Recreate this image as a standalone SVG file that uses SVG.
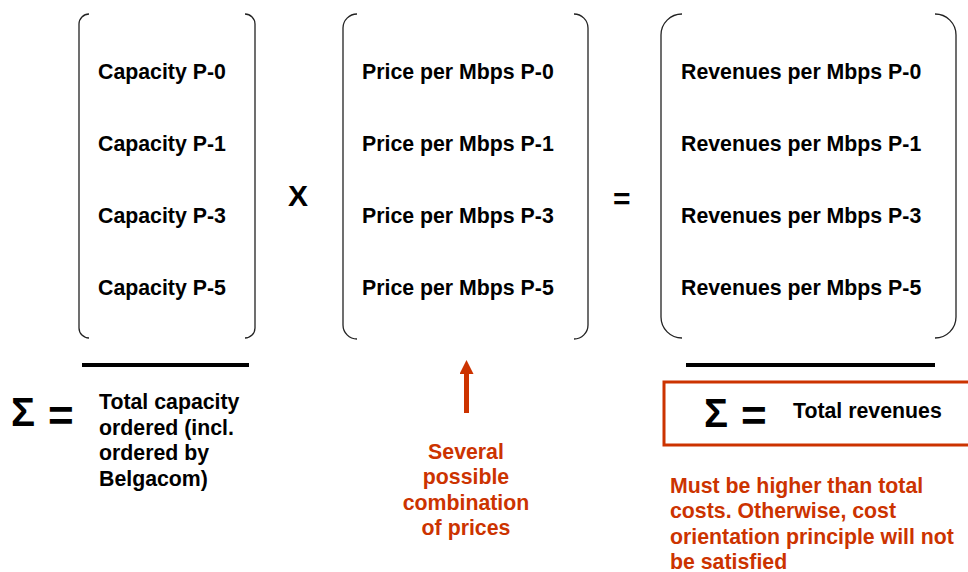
<svg xmlns="http://www.w3.org/2000/svg" width="968" height="572" viewBox="0 0 968 572">
<style>
  .lbl{font-family:"Liberation Sans",Arial,sans-serif;font-weight:bold;font-size:21.3px;fill:#000}
  .red{font-family:"Liberation Sans",Arial,sans-serif;font-weight:bold;font-size:21.3px;fill:#CC3300}
  .op{font-family:"Liberation Sans",Arial,sans-serif;font-weight:bold;fill:#000}
  .br{fill:none;stroke:#222;stroke-width:1.3}
  .bar{stroke:#000;stroke-width:4}
</style>
<defs>
  <marker id="ah" markerWidth="14" markerHeight="14" refX="0" refY="7" viewBox="0 0 14 14" markerUnits="userSpaceOnUse" orient="auto">
    <path d="M0,0 L14,7 L0,14 Z" fill="#CC3300"/>
  </marker>
</defs>
<rect width="968" height="572" fill="#fff"/>

<g id="matrix-capacity">
  <path class="br" d="M89,14 A10,10 0 0 0 79,24 L79,328 A10,10 0 0 0 89,338"/>
  <path class="br" d="M245,14 A10,10 0 0 1 255,24 L255,328 A10,10 0 0 1 245,338"/>
  <text class="lbl" x="98" y="78.5">Capacity P-0</text>
  <text class="lbl" x="98" y="150.5">Capacity P-1</text>
  <text class="lbl" x="98" y="222.5">Capacity P-3</text>
  <text class="lbl" x="98" y="294.5">Capacity P-5</text>
</g>

<g id="op-times">
  <text class="op" x="288" y="206" font-size="30">X</text>
</g>

<g id="matrix-price">
  <path class="br" d="M357,14 A14,14 0 0 0 343,28 L343,325 A14,14 0 0 0 357,339"/>
  <path class="br" d="M574,14 A14,14 0 0 1 588,28 L588,325 A14,14 0 0 1 574,339"/>
  <text class="lbl" x="362" y="78.5">Price per Mbps P-0</text>
  <text class="lbl" x="362" y="150.5">Price per Mbps P-1</text>
  <text class="lbl" x="362" y="222.5">Price per Mbps P-3</text>
  <text class="lbl" x="362" y="294.5">Price per Mbps P-5</text>
</g>

<g id="op-equals">
  <text class="op" x="613" y="209" font-size="30">=</text>
</g>

<g id="matrix-revenues">
  <path class="br" d="M682,14 A21,21 0 0 0 661,35 L661,317 A21,21 0 0 0 682,338"/>
  <path class="br" d="M935,14 A21,21 0 0 1 956,35 L956,317 A21,21 0 0 1 935,338"/>
  <text class="lbl" x="681" y="78.5">Revenues per Mbps P-0</text>
  <text class="lbl" x="681" y="150.5">Revenues per Mbps P-1</text>
  <text class="lbl" x="681" y="222.5">Revenues per Mbps P-3</text>
  <text class="lbl" x="681" y="294.5">Revenues per Mbps P-5</text>
</g>

<g id="sum-capacity">
  <line class="bar" x1="82" y1="365" x2="249" y2="365"/>
  <text class="op" x="11" y="426" font-size="40">Σ</text>
  <text class="op" x="48" y="431" font-size="44">=</text>
  <text class="lbl" x="99" y="409">Total capacity</text>
  <text class="lbl" x="99" y="434.5">ordered (incl.</text>
  <text class="lbl" x="99" y="460">ordered by</text>
  <text class="lbl" x="99" y="485.5">Belgacom)</text>
</g>

<g id="note-prices">
  <text class="red" text-anchor="middle" x="466" y="458.5">Several</text>
  <text class="red" text-anchor="middle" x="466" y="484">possible</text>
  <text class="red" text-anchor="middle" x="466" y="509.5">combination</text>
  <text class="red" text-anchor="middle" x="466" y="535">of prices</text>
</g>

<g id="sum-revenues">
  <line class="bar" x1="686" y1="365" x2="935" y2="365"/>
  <rect x="664" y="382" width="310" height="63" fill="none" stroke="#CC3300" stroke-width="3"/>
  <text class="op" x="704" y="427" font-size="40">Σ</text>
  <text class="op" x="741" y="431" font-size="44">=</text>
  <text class="lbl" x="793" y="418">Total revenues</text>
</g>

<g id="note-revenues">
  <text class="red" x="670" y="492.5">Must be higher than total</text>
  <text class="red" x="670" y="518">costs. Otherwise, cost</text>
  <text class="red" x="670" y="543.5">orientation principle will not</text>
  <text class="red" x="670" y="568.5">be satisfied</text>
</g>

<g id="connectors">
  <line x1="466.5" y1="413" x2="466.5" y2="374" stroke="#CC3300" stroke-width="5" marker-end="url(#ah)"/>
</g>
</svg>
